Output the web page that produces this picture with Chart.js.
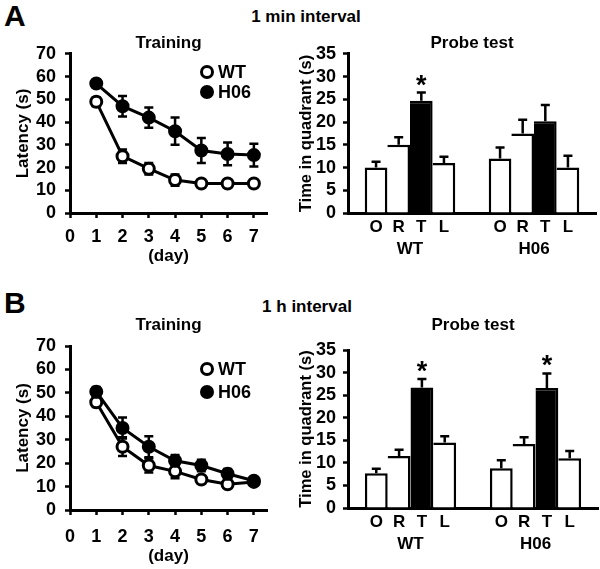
<!DOCTYPE html>
<html lang="en">
<head>
<meta charset="UTF-8">
<title>Training latency and probe test</title>
<script src="https://cdn.jsdelivr.net/npm/chart.js"></script>
<style>
    body { margin: 0; background: #fff; }
    #fig { position: relative; width: 600px; height: 569px; overflow: hidden;
           font-family: 'Liberation Sans', Arial, sans-serif; font-weight: bold; color: #000; }
    .txt { position: absolute; white-space: nowrap; line-height: 1; }
    .head { width: 200px; text-align: center; font-size: 17px; }
    canvas { position: absolute; }
</style>
</head>
<body>
<div id="fig">
    <div class="txt" style="left:4px; top:1px; font-size:30px;">A</div>
    <div class="txt head" style="left:206px; top:8px;">1 min interval</div>
    <div class="txt" style="left:4px; top:288px; font-size:30px;">B</div>
    <div class="txt head" style="left:207px; top:298px;">1 h interval</div>
    <canvas id="trainA" width="300" height="275" style="left:0; top:0;"></canvas>
    <canvas id="probeA" width="310" height="275" style="left:290px; top:0;"></canvas>
    <canvas id="trainB" width="300" height="284" style="left:0; top:285px;"></canvas>
    <canvas id="probeB" width="310" height="284" style="left:290px; top:285px;"></canvas>
</div>
<script>
// values (mean and error)
var days = [1, 2, 3, 4, 5, 6, 7];
var groups = ['WT', 'H06'];
var quadrants = ['O', 'R', 'T', 'L'];

// A - 1 min interval
var trainA_WT      = [49, 25, 19.5, 14.5, 13, 13, 13];
var trainA_WT_err  = [2, 3, 2.5, 2.5, 1.5, 1.5, 1];
var trainA_H06     = [57, 47, 42, 36, 27.5, 26, 25.5];
var trainA_H06_err = [1.5, 4.5, 4.5, 6, 5.5, 5, 5];
var probeA_WT      = [10, 15, 24.7, 11];
var probeA_WT_err  = [1.3, 1.7, 1.8, 1.4];
var probeA_H06     = [12, 17.5, 20.2, 10];
var probeA_H06_err = [2.4, 3, 3.6, 2.6];
var probeA_WT_star  = [false, false, true, false];
var probeA_H06_star = [false, false, false, false];

// B - 1 h interval
var trainB_WT      = [46, 27, 19, 16.5, 13, 11, 12];
var trainB_WT_err  = [2, 4, 3, 3, 1.5, 1.5, 1];
var trainB_H06     = [50.5, 35, 27, 21, 19, 15.5, 12.5];
var trainB_H06_err = [2, 4.5, 4.5, 2.5, 2.5, 2, 1];
var probeB_WT      = [7.7, 11.5, 26.7, 14.5];
var probeB_WT_err  = [1, 1.4, 1.9, 1.4];
var probeB_H06     = [8.8, 14.2, 26.6, 11];
var probeB_H06_err = [1.8, 1.5, 3.2, 1.6];
var probeB_WT_star  = [false, false, true, false];
var probeB_H06_star = [false, false, true, false];

var FAMILY = "'Liberation Sans', Arial, sans-serif";
Chart.defaults.font.family = FAMILY;
Chart.defaults.font.weight = 'bold';
Chart.defaults.font.size = 16;
Chart.defaults.color = '#000';
Chart.defaults.animation = false;
Chart.defaults.responsive = false;
Chart.defaults.plugins.legend.display = false;
Chart.defaults.plugins.tooltip.enabled = false;

// error bars on the training curves (drawn under the markers)
var lineErrors = {
    id: 'lineErrors',
    beforeDatasetsDraw: function (chart) {
        var ctx = chart.ctx, ys = chart.scales.y;
        ctx.save();
        ctx.strokeStyle = '#000';
        ctx.lineWidth = 2.5;
        chart.data.datasets.forEach(function (ds, i) {
            chart.getDatasetMeta(i).data.forEach(function (pt, j) {
                var v = ds.data[j].y, e = ds.errors[j];
                var hi = ys.getPixelForValue(v + e), lo = ys.getPixelForValue(v - e);
                ctx.beginPath();
                ctx.moveTo(pt.x, hi); ctx.lineTo(pt.x, lo);
                ctx.moveTo(pt.x - 4.5, hi); ctx.lineTo(pt.x + 4.5, hi);
                ctx.moveTo(pt.x - 4.5, lo); ctx.lineTo(pt.x + 4.5, lo);
                ctx.stroke();
            });
        });
        ctx.restore();
    }
};

// legend inside the plot, marker + name
var inlineLegend = {
    id: 'inlineLegend',
    afterDatasetsDraw: function (chart, args, opts) {
        var ctx = chart.ctx, a = chart.chartArea;
        ctx.save();
        ctx.font = 'bold 18px ' + FAMILY;
        ctx.textBaseline = 'middle';
        ctx.textAlign = 'left';
        chart.data.datasets.forEach(function (ds, i) {
            var x = a.left + opts.x, y = a.top + opts.y + i * opts.gap;
            ctx.fillStyle = ds.pointBackgroundColor;
            ctx.strokeStyle = ds.pointBorderColor;
            ctx.lineWidth = ds.pointBorderWidth;
            Chart.helpers.drawPoint(ctx, {pointStyle: 'circle', radius: ds.pointRadius, borderWidth: ds.pointBorderWidth}, x, y);
            ctx.fillStyle = '#000';
            ctx.fillText(ds.label, x + 11, y + 1);
        });
        ctx.restore();
    }
};

// error bars, stars and quadrant letters on the probe bars
var barMarks = {
    id: 'barMarks',
    afterDatasetsDraw: function (chart, args, opts) {
        var ctx = chart.ctx, ys = chart.scales.y, base = chart.chartArea.bottom;
        ctx.save();
        ctx.fillStyle = '#000';
        ctx.strokeStyle = '#000';
        ctx.lineWidth = 2.5;
        ctx.textAlign = 'center';
        chart.data.datasets.forEach(function (ds, i) {
            chart.getDatasetMeta(i).data.forEach(function (bar, j) {
                var top = ys.getPixelForValue(ds.data[j] + ds.errors[j]);
                ctx.beginPath();
                ctx.moveTo(bar.x, bar.y); ctx.lineTo(bar.x, top);
                ctx.moveTo(bar.x - 4.5, top); ctx.lineTo(bar.x + 4.5, top);
                ctx.stroke();
                if (ds.stars[j]) {
                    ctx.font = 'bold 27px ' + FAMILY;
                    ctx.textBaseline = 'alphabetic';
                    ctx.fillText('*', bar.x, top + opts.starDy);
                }
                ctx.font = 'bold 17px ' + FAMILY;
                ctx.textBaseline = 'middle';
                ctx.fillText(ds.label, bar.x, base + opts.letterDy);
            });
        });
        ctx.restore();
    }
};

function axisGrid() {
    return { drawOnChartArea: false, drawTicks: true, tickLength: 5, tickWidth: 2.5, tickColor: '#000' };
}

// f: chartArea top/bottom inside the canvas, canvas height, title centre, paddings
function trainingChart(id, wt, wtErr, h06, h06Err, f) {
    return new Chart(document.getElementById(id), {
        type: 'line',
        data: {
            datasets: [{
                label: 'WT',
                data: days.map(function (d, i) { return {x: d, y: wt[i]}; }),
                errors: wtErr,
                borderColor: '#000',
                borderWidth: 3,
                pointRadius: 5.5,
                pointBorderWidth: 3,
                pointBackgroundColor: '#fff',
                pointBorderColor: '#000',
                order: 1
            }, {
                label: 'H06',
                data: days.map(function (d, i) { return {x: d, y: h06[i]}; }),
                errors: h06Err,
                borderColor: '#000',
                borderWidth: 3,
                pointRadius: 6,
                pointBorderWidth: 2,
                pointBackgroundColor: '#000',
                pointBorderColor: '#000',
                order: 0
            }]
        },
        options: {
            layout: { padding: { left: 0, right: 33, top: 0, bottom: 0 } },
            plugins: {
                title: {
                    display: true, text: 'Training', fullSize: false,
                    font: { size: 17 },
                    padding: { top: f.titleY - 10.2, bottom: f.top - f.titleY - 10.2 }
                },
                inlineLegend: { x: 137, y: f.legY, gap: f.legGap }
            },
            scales: {
                x: {
                    type: 'linear', min: 0, max: 7.5,
                    afterFit: function (s) { s.height = f.h - f.bottom; },
                    ticks: { stepSize: 1, includeBounds: false, autoSkip: false, padding: f.tickPad, font: { size: 18 } },
                    grid: axisGrid(),
                    border: { color: '#000', width: 3 },
                    title: { display: true, text: '(day)', font: { size: 17 }, padding: { top: 0, bottom: f.dayPad } }
                },
                y: {
                    min: 0, max: 70,
                    afterFit: function (s) { s.width = 70; },
                    ticks: { stepSize: 10, autoSkip: false, padding: 9, font: { size: 18 } },
                    grid: axisGrid(),
                    border: { color: '#000', width: 3 },
                    title: { display: true, text: 'Latency (s)', font: { size: 17 }, padding: { top: 13, bottom: 0 } }
                }
            }
        },
        plugins: [lineErrors, inlineLegend]
    });
}

function probeChart(id, wt, wtErr, wtStar, h06, h06Err, h06Star, f) {
    var datasets = quadrants.map(function (q, k) {
        return {
            label: q,
            data: [wt[k], h06[k]],
            errors: [wtErr[k], h06Err[k]],
            stars: [wtStar[k], h06Star[k]],
            backgroundColor: q === 'T' ? '#000' : '#fff',
            borderColor: '#000',
            borderWidth: k === 0 ? { top: 2.5, left: 2.5, right: 2.5, bottom: 0 } : { top: 2.5, left: 0, right: 2.5, bottom: 0 },
            barPercentage: 1,
            categoryPercentage: 0.73
        };
    });
    return new Chart(document.getElementById(id), {
        type: 'bar',
        data: { labels: groups, datasets: datasets },
        options: {
            layout: { padding: { left: 0, right: f.right, top: 0, bottom: 0 } },
            plugins: {
                title: {
                    display: true, text: 'Probe test', fullSize: false,
                    font: { size: 17 },
                    padding: { top: f.titleY - 10.2, bottom: f.top - f.titleY - 10.2 }
                },
                barMarks: { starDy: 1, letterDy: 14 }
            },
            scales: {
                x: {
                    afterFit: function (s) { s.height = f.h - f.bottom; },
                    ticks: { padding: 18, font: { size: 17 } },
                    grid: { display: false },
                    border: { color: '#000', width: 3 }
                },
                y: {
                    min: 0, max: 35,
                    afterFit: function (s) { s.width = 58; },
                    ticks: { stepSize: 5, autoSkip: false, padding: 7, font: { size: 18 } },
                    grid: axisGrid(),
                    border: { color: '#000', width: 3 },
                    title: { display: true, text: 'Time in quadrant (s)', font: { size: 16.5 }, padding: { top: 7, bottom: 0 } }
                }
            }
        },
        plugins: [barMarks]
    });
}

trainingChart('trainA', trainA_WT, trainA_WT_err, trainA_H06, trainA_H06_err,
    { top: 54, bottom: 213, h: 275, titleY: 43, tickPad: 8.5, dayPad: 8, legY: 18, legGap: 20 });
probeChart('probeA', probeA_WT, probeA_WT_err, probeA_WT_star, probeA_H06, probeA_H06_err, probeA_H06_star,
    { top: 54, bottom: 213, h: 275, titleY: 43, right: 4 });
trainingChart('trainB', trainB_WT, trainB_WT_err, trainB_H06, trainB_H06_err,
    { top: 61, bottom: 225, h: 284, titleY: 40, tickPad: 11.5, dayPad: 2.5, legY: 23, legGap: 23 });
probeChart('probeB', probeB_WT, probeB_WT_err, probeB_WT_star, probeB_H06, probeB_H06_err, probeB_H06_star,
    { top: 65, bottom: 223, h: 284, titleY: 40, right: 2 });
</script>
</body>
</html>
